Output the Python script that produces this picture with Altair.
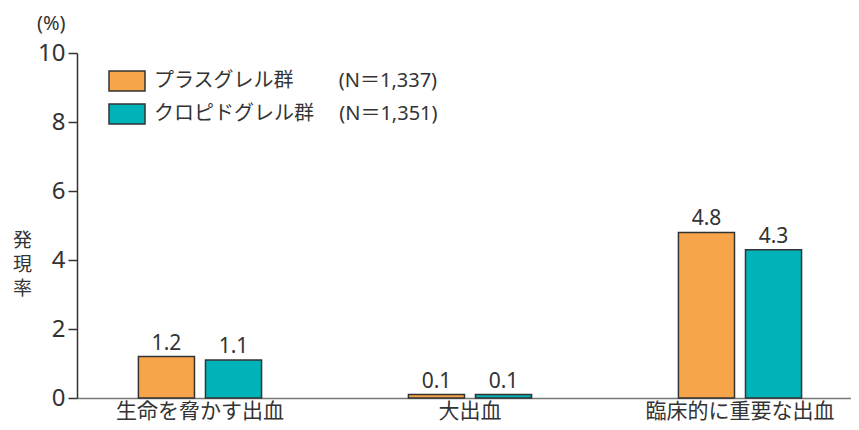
import altair as alt
import pandas as pd

categories = ["生命を脅かす出血", "大出血", "臨床的に重要な出血"]
groups = ["プラスグレル群", "クロピドグレル群"]
group_n = ["(N＝1,337)", "(N＝1,351)"]
prasugrel = [1.2, 0.1, 4.8]
clopidogrel = [1.1, 0.1, 4.3]
colors = ["#F7A54A", "#00B3B9"]

rows = []
for i, c in enumerate(categories):
    rows.append({"cat": c, "grp": groups[0], "val": prasugrel[i]})
    rows.append({"cat": c, "grp": groups[1], "val": clopidogrel[i]})
df = pd.DataFrame(rows)

FONT = "Noto Sans, Noto Sans CJK JP"
TXT = "#333333"

label_expr = (
    "datum.label == '" + groups[0] + "' ? '" + groups[0] + "　　  " + group_n[0] + "' : '"
    + groups[1] + "　  " + group_n[1] + "'"
)

x = alt.X(
    "cat:N",
    sort=categories,
    scale=alt.Scale(paddingInner=0.544, paddingOuter=0.2053, align=0.554),
    axis=alt.Axis(
        title=None, labelAngle=0, ticks=False, labelFontSize=21, labelColor=TXT,
        labelFont=FONT, domainColor="#777777", domainWidth=1.5, labelPadding=2,
        labelLimit=400,
    ),
)
xo = alt.XOffset("grp:N", sort=groups, scale=alt.Scale(paddingInner=0.164, paddingOuter=0))
y = alt.Y(
    "val:Q",
    scale=alt.Scale(domain=[0, 10], nice=False),
    axis=alt.Axis(
        values=[0, 2, 4, 6, 8, 10], grid=False, title=["発", "現", "率"], titleAngle=0,
        titleFontSize=19, titleFont=FONT, titleColor=TXT, titleFontWeight="normal",
        titleX=-55, titleY=187, titleAlign="center", titleBaseline="middle", titleLineHeight=24,
        labelFontSize=24, labelFont=FONT, labelColor=TXT, labelPadding=3,
        tickSize=9, tickColor=TXT, domainColor=TXT, domainWidth=1.5, tickWidth=1.5,
    ),
)

bars = alt.Chart(df).mark_bar(stroke="#333333", strokeWidth=1.5).encode(
    x=x,
    xOffset=xo,
    y=y,
    fill=alt.Fill(
        "grp:N", sort=groups,
        scale=alt.Scale(domain=groups, range=colors),
        legend=alt.Legend(
            title=None, orient="none", legendX=31, legendY=9,
            symbolType="M-1,-0.56H1V0.56H-1Z", symbolSize=1296,
            symbolStrokeColor="#333333", symbolStrokeWidth=1.5, symbolOpacity=1,
            labelFontSize=20, labelFont=FONT, labelColor=TXT, labelOffset=8,
            labelExpr=label_expr, rowPadding=0, labelLimit=500,
        ),
    ),
)

texts = alt.Chart(df).mark_text(
    baseline="bottom", dy=-3, fontSize=21, font=FONT, color=TXT
).encode(
    x=alt.X("cat:N", sort=categories),
    xOffset=alt.XOffset("grp:N", sort=groups),
    y="val:Q",
    text=alt.Text("val:Q", format=".1f"),
)

chart = (
    alt.layer(bars, texts)
    .properties(
        width=774, height=345,
        autosize=alt.AutoSizeParams(type="none"),
        padding={"left": 69, "top": 45, "right": 0, "bottom": 24},
        title=alt.TitleParams(
            "(%)", anchor="start", frame="group", dx=-40, offset=7,
            fontSize=20, fontWeight="normal", font=FONT, color=TXT,
        ),
    )
    .configure_view(stroke=None)
)

chart.save("out.html", embed_options={"renderer": "svg", "actions": False})
